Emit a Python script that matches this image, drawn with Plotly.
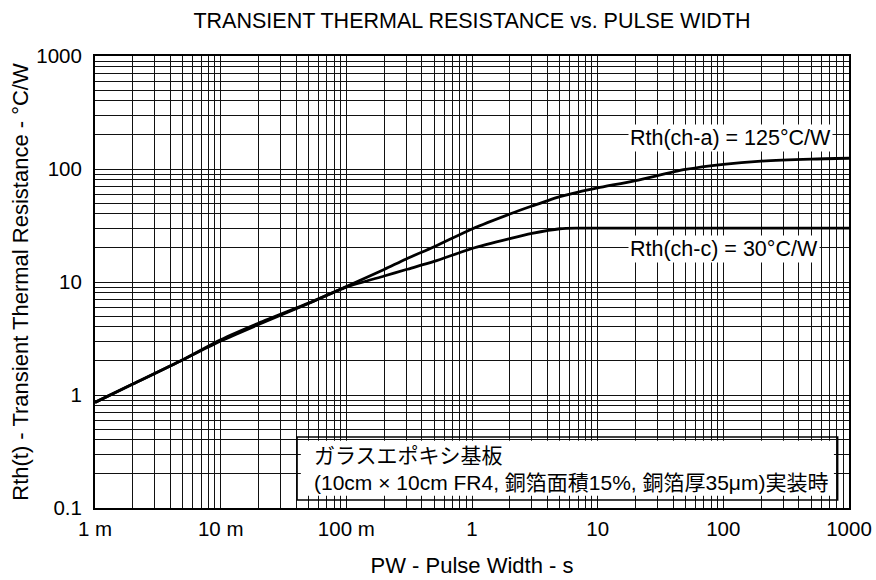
import plotly.graph_objects as go

# Pulse width (s)
pulse_width = [0.001, 0.002, 0.005, 0.01, 0.02, 0.05, 0.1, 0.2, 0.3, 0.5, 1, 2, 3, 5, 7, 10,
               20, 50, 100, 200, 500, 1000]
# Rth(t) curve, channel to ambient (glass-epoxy board)
rth_ch_a = [0.86, 1.25, 2.05, 3.0, 4.2, 6.45, 9.1, 12.9, 16.0, 20.5, 29.5, 40, 47, 57, 62.5, 68,
            79, 99, 110, 117.5, 122.5, 124.5]
# Rth(t) curve, channel to case
rth_ch_c = [0.86, 1.25, 2.05, 3.08, 4.32, 6.5, 9.0, 11.3, 12.9, 15.2, 19.8, 24.2, 26.9, 29.6, 30, 30,
            30, 30, 30, 30, 30, 30]

x_tickvals = [0.001, 0.01, 0.1, 1, 10, 100, 1000]
x_ticktext = ["1 m", "10 m", "100 m", "1", "10", "100", "1000"]
y_tickvals = [0.1, 1, 10, 100, 1000]
y_ticktext = ["0.1", "1", "10", "100", "1000"]

label_ch_a = "Rth(ch-a) = 125°C/W"
label_ch_c = "Rth(ch-c) = 30°C/W"
board_note = "ガラスエポキシ基板<br>(10cm × 10cm FR4, 銅箔面積15%, 銅箔厚35μm)実装時"

FONT = "Liberation Sans, Arial, Noto Sans CJK JP, sans-serif"
GRID = "#111111"

x_minor = [m * 10.0 ** e for e in range(-3, 3) for m in range(2, 10)]
y_minor = [m * 10.0 ** e for e in range(-1, 3) for m in range(2, 10)]

fig = go.Figure()
for ys in (rth_ch_a, rth_ch_c):
    fig.add_trace(go.Scatter(
        x=pulse_width, y=ys, mode="lines",
        line=dict(color="black", width=2.8, shape="spline", smoothing=0.7),
        showlegend=False, hoverinfo="skip",
    ))

axis_common = dict(
    type="log", showgrid=True, gridcolor=GRID, gridwidth=1,
    showline=True, linecolor="black", linewidth=2, mirror=True,
    ticks="", zeroline=False, tickmode="array",
    tickfont=dict(family=FONT, size=20.5, color="black"),
    title_font=dict(family=FONT, size=22, color="black"),
)

fig.update_xaxes(
    **axis_common, range=[-3, 3],
    tickvals=x_tickvals, ticktext=x_ticktext,
    minor=dict(tickmode="array", tickvals=x_minor, showgrid=True, gridcolor=GRID, gridwidth=1),
    title_text="PW - Pulse Width - s", title_standoff=19, ticklabelstandoff=1,
)
fig.update_yaxes(
    **axis_common, range=[-1, 3],
    tickvals=y_tickvals, ticktext=y_ticktext,
    minor=dict(tickmode="array", tickvals=y_minor, showgrid=True, gridcolor=GRID, gridwidth=1),
    title_text="Rth(t) - Transient Thermal Resistance - °C/W", title_standoff=2,
    ticklabelstandoff=7,
)

# Curve labels with white background boxes
for text, ypos in ((label_ch_a, 0.8175), (label_ch_c, 0.573)):
    fig.add_annotation(
        text=text, xref="paper", yref="paper", x=0.707, y=ypos,
        xanchor="left", yanchor="middle", showarrow=False, align="left",
        font=dict(family=FONT, size=21.5, color="black"),
        bgcolor="white", borderpad=1,
    )

# Mounting-condition box: white fill slightly inset from the black frame
fig.add_shape(type="rect", xref="paper", yref="paper",
              x0=0.273, x1=0.980, y0=0.027, y1=0.149,
              fillcolor="white", line=dict(width=0), layer="above")
fig.add_shape(type="rect", xref="paper", yref="paper",
              x0=0.268, x1=0.985, y0=0.0177, y1=0.157,
              fillcolor="rgba(0,0,0,0)", line=dict(color="black", width=1.5), layer="above")
fig.add_annotation(
    text=board_note, xref="paper", yref="paper", x=0.288, y=0.087,
    xanchor="left", yanchor="middle", showarrow=False, align="left",
    font=dict(family=FONT, size=21, color="black"),
)

fig.update_layout(
    width=876, height=580,
    margin=dict(l=95, r=27, t=56, b=72, autoexpand=False),
    paper_bgcolor="white", plot_bgcolor="white",
    title=dict(text="TRANSIENT THERMAL RESISTANCE vs. PULSE WIDTH",
               x=0.5, xref="paper", xanchor="center", y=1 - 20 / 580, yanchor="middle",
               font=dict(family=FONT, size=21.5, color="black")),
)

fig.write_html("out.html")
